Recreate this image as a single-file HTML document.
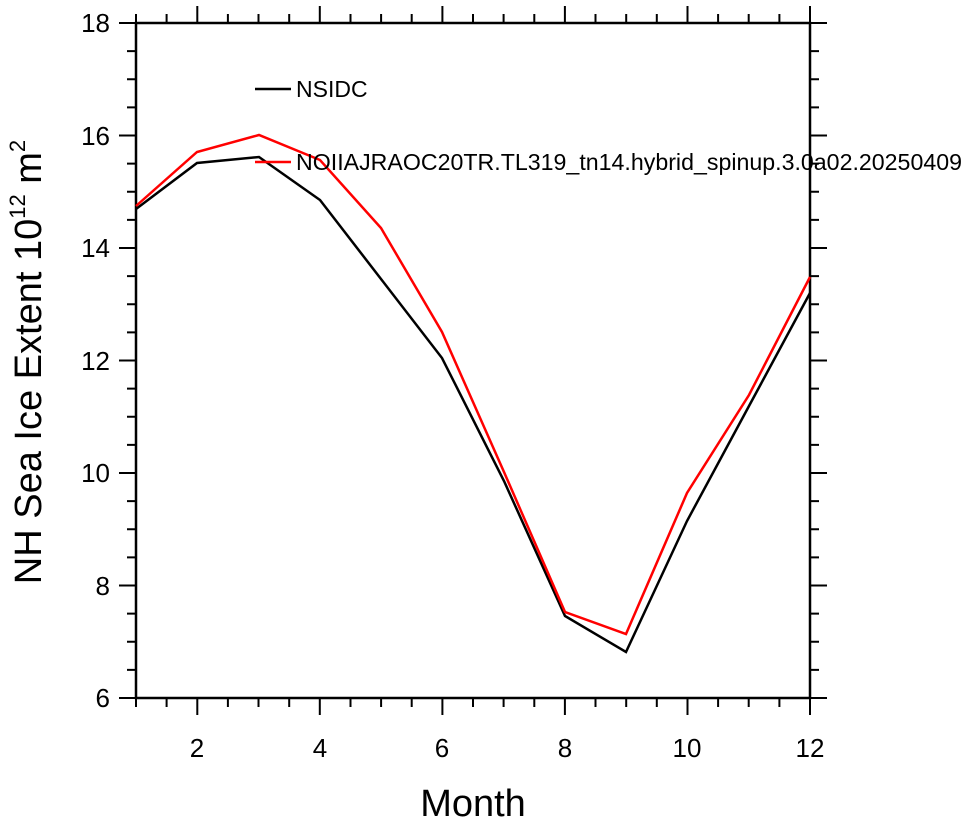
<!DOCTYPE html>
<html><head><style>body{margin:0;background:#fff}</style></head><body>
<svg width="967" height="822" xmlns="http://www.w3.org/2000/svg" font-family="Liberation Sans, sans-serif">
<g stroke="#000" stroke-width="2" fill="none">
<path d="M136,698v9M166.6,698v9M197.3,698v17M227.9,698v9M258.5,698v9M289.2,698v9M319.8,698v17M350.5,698v9M381.1,698v9M411.7,698v9M442.4,698v17M473,698v9M503.6,698v9M534.3,698v9M564.9,698v17M595.5,698v9M626.2,698v9M656.8,698v9M687.5,698v17M718.1,698v9M748.7,698v9M779.4,698v9M810,698v17"/>
<path d="M136,23v-9M166.6,23v-9M197.3,23v-17M227.9,23v-9M258.5,23v-9M289.2,23v-9M319.8,23v-17M350.5,23v-9M381.1,23v-9M411.7,23v-9M442.4,23v-17M473,23v-9M503.6,23v-9M534.3,23v-9M564.9,23v-17M595.5,23v-9M626.2,23v-9M656.8,23v-9M687.5,23v-17M718.1,23v-9M748.7,23v-9M779.4,23v-9M810,23v-17"/>
<path d="M136,698h-17M136,669.9h-9M136,641.75h-9M136,613.6h-9M136,585.5h-17M136,557.4h-9M136,529.25h-9M136,501.1h-9M136,473h-17M136,444.9h-9M136,416.75h-9M136,388.6h-9M136,360.5h-17M136,332.4h-9M136,304.25h-9M136,276.1h-9M136,248h-17M136,219.9h-9M136,191.75h-9M136,163.6h-9M136,135.5h-17M136,107.4h-9M136,79.25h-9M136,51.1h-9M136,23h-17"/>
<path d="M810,698h17M810,669.9h9M810,641.75h9M810,613.6h9M810,585.5h17M810,557.4h9M810,529.25h9M810,501.1h9M810,473h17M810,444.9h9M810,416.75h9M810,388.6h9M810,360.5h17M810,332.4h9M810,304.25h9M810,276.1h9M810,248h17M810,219.9h9M810,191.75h9M810,163.6h9M810,135.5h17M810,107.4h9M810,79.25h9M810,51.1h9M810,23h17"/>
</g>
<rect x="136" y="23" width="674" height="675" fill="none" stroke="#000" stroke-width="2.5"/>
<polyline fill="none" stroke="#000" stroke-width="2.5" points="136,209 197,163 259,157 320,200 381,279 442,358 504,481 565,616 626,652 687,521 749,406 810,293"/>
<polyline fill="none" stroke="#f00" stroke-width="2.5" points="136,206 197,152 259,135 320,160 381,228 442,332 504,472 565,612 626,634 687,493 749,395 810,277"/>
<line x1="255" y1="89" x2="291" y2="89" stroke="#000" stroke-width="2.5"/>
<line x1="255" y1="162" x2="291" y2="162" stroke="#f00" stroke-width="2.5"/>
<text x="296" y="97" font-size="23">NSIDC</text>
<text x="296" y="170" font-size="23" textLength="666" lengthAdjust="spacingAndGlyphs">NOIIAJRAOC20TR.TL319_tn14.hybrid_spinup.3.0a02.20250409</text>
<g font-size="26" text-anchor="end">
<text x="110" y="32">18</text><text x="110" y="145">16</text><text x="110" y="257">14</text><text x="110" y="370">12</text><text x="110" y="482">10</text><text x="110" y="595">8</text><text x="110" y="707">6</text>
</g>
<g font-size="26" text-anchor="middle">
<text x="197" y="757">2</text><text x="320" y="757">4</text><text x="442" y="757">6</text><text x="565" y="757">8</text><text x="687" y="757">10</text><text x="810" y="757">12</text>
</g>
<text x="473" y="816" font-size="38" text-anchor="middle">Month</text>
<text transform="translate(41,362) rotate(-90)" font-size="38" text-anchor="middle">NH Sea Ice Extent 10<tspan font-size="22" dy="-16">12</tspan><tspan dy="16"> m</tspan><tspan font-size="22" dy="-16">2</tspan></text>
</svg>
</body></html>
